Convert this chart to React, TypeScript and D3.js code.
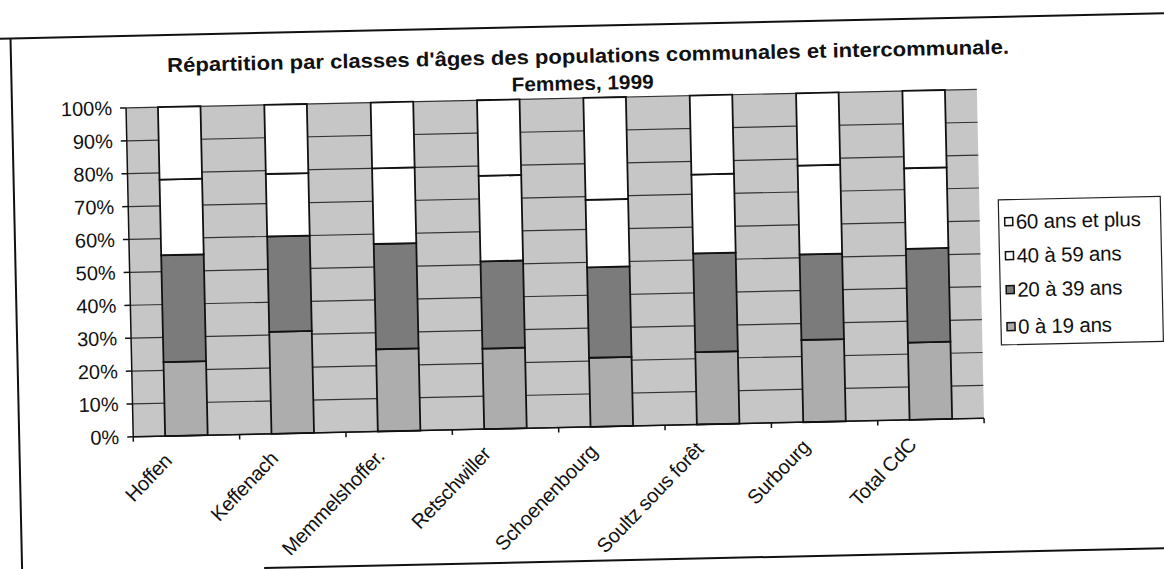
import React from "react";
import * as d3 from "d3";

const categories = [
  "Hoffen",
  "Keffenach",
  "Memmelshoffer.",
  "Retschwiller",
  "Schoenenbourg",
  "Soultz sous forêt",
  "Surbourg",
  "Total CdC",
];
const seriesNames = ["0 à 19 ans", "20 à 39 ans", "40 à 59 ans", "60 ans et plus"];
const age0to19 = [22.5, 31, 25, 24.5, 21, 22, 25, 23.5];
const age20to39 = [32.5, 29, 32, 26.5, 27.5, 30, 26, 28.5];
const age40to59 = [23, 19, 23, 26, 20.5, 24, 27, 24.5];
const age60plus = [22, 21, 20, 23, 31, 24, 22, 23.5];
const yTicks = [0, 10, 20, 30, 40, 50, 60, 70, 80, 90, 100];
const titleLine1 = "Répartition par classes d'âges des populations communales et intercommunale.";
const titleLine2 = "Femmes, 1999";

const W = 1164;
const H = 569;
const FONT = "'Liberation Sans', Arial, Helvetica, sans-serif";
const PLOT = { left: 130, right: 981, top: 98, bottom: 427 };
const colors: Record<string, string> = {
  "0 à 19 ans": "#adadad",
  "20 à 39 ans": "#7b7b7b",
  "40 à 59 ans": "#ffffff",
  "60 ans et plus": "#ffffff",
};
const BG = "#c6c6c6";

export default function App() {
  const rows = categories.map((c, i) => ({
    cat: c,
    "0 à 19 ans": age0to19[i],
    "20 à 39 ans": age20to39[i],
    "40 à 59 ans": age40to59[i],
    "60 ans et plus": age60plus[i],
  }));
  const stack = d3.stack<any>().keys(seriesNames).offset(d3.stackOffsetExpand);
  const layers = stack(rows);

  const x = d3
    .scaleBand<string>()
    .domain(categories)
    .range([PLOT.left, PLOT.right])
    .paddingInner(0.6)
    .paddingOuter(0.3);
  const y = d3.scaleLinear().domain([0, 1]).range([PLOT.bottom, PLOT.top]);
  const yPct = d3.scaleLinear().domain([0, 100]).range([PLOT.bottom, PLOT.top]);
  const step = x.step();
  const bandEdges = d3.range(categories.length + 1).map((i) => PLOT.left + i * step);

  const legendItems = [...seriesNames].reverse();

  return (
    <svg
      width={W}
      height={H}
      style={{ position: "absolute", left: 0, top: 0, background: "#fff" }}
      fontFamily={FONT}
    >
      <rect x={0} y={0} width={W} height={H} fill="#fff" />
      <g transform={`rotate(-1.25, 582, 284)`}>
        {/* chart frame */}
        <line x1={-10} y1={26} x2={1200} y2={26} stroke="#111" strokeWidth={2} />
        <line x1={16} y1={26} x2={16} y2={600} stroke="#111" strokeWidth={2} />
        <line x1={258} y1={561} x2={1200} y2={561} stroke="#111" strokeWidth={2} />

        {/* title */}
        <text
          x={172}
          y={63}
          fontWeight="bold"
          fontSize={20}
          fill="#111"
          textLength={842}
          lengthAdjust="spacingAndGlyphs"
        >
          {titleLine1}
        </text>
        <text
          x={516}
          y={90}
          fontWeight="bold"
          fontSize={20}
          fill="#111"
          textLength={142}
          lengthAdjust="spacingAndGlyphs"
        >
          {titleLine2}
        </text>

        {/* plot background */}
        <rect
          x={PLOT.left}
          y={PLOT.top}
          width={PLOT.right - PLOT.left}
          height={PLOT.bottom - PLOT.top}
          fill={BG}
        />
        {/* gridlines */}
        {yTicks.map((t) => (
          <line
            key={"g" + t}
            x1={PLOT.left}
            x2={PLOT.right}
            y1={yPct(t)}
            y2={yPct(t)}
            stroke="#333"
            strokeWidth={1.2}
          />
        ))}

        {/* bars */}
        {layers.map((layer) => (
          <g key={layer.key}>
            {layer.map((d, i) => (
              <rect
                key={i}
                x={x(categories[i])}
                y={y(d[1])}
                width={x.bandwidth()}
                height={y(d[0]) - y(d[1])}
                fill={colors[layer.key]}
                stroke="#111"
                strokeWidth={1.8}
              />
            ))}
          </g>
        ))}

        {/* y axis */}
        <line x1={PLOT.left} x2={PLOT.left} y1={PLOT.top} y2={PLOT.bottom} stroke="#111" strokeWidth={1.5} />
        {yTicks.map((t) => (
          <g key={"y" + t}>
            <line x1={PLOT.left - 6} x2={PLOT.left} y1={yPct(t)} y2={yPct(t)} stroke="#111" strokeWidth={1.5} />
            <text
              x={116}
              y={yPct(t)}
              dy="0.35em"
              textAnchor="end"
              fontSize={20}
              fill="#111"
            >
              {t + "%"}
            </text>
          </g>
        ))}

        {/* x axis */}
        <line x1={PLOT.left} x2={PLOT.right} y1={PLOT.bottom} y2={PLOT.bottom} stroke="#111" strokeWidth={1.5} />
        {bandEdges.map((bx, i) => (
          <line key={"xt" + i} x1={bx} x2={bx} y1={PLOT.bottom} y2={PLOT.bottom + 5} stroke="#111" strokeWidth={1.5} />
        ))}
        {categories.map((c) => {
          const cx = (x(c) as number) + x.bandwidth() / 2;
          return (
            <text
              key={"xl" + c}
              transform={`translate(${cx - 14}, ${PLOT.bottom + 26}) rotate(-45)`}
              textAnchor="end"
              fontSize={20}
              letterSpacing={-0.3}
              fill="#111"
            >
              {c}
            </text>
          );
        })}

        {/* legend */}
        <rect x={1000} y={209} width={162} height={145} fill="#fff" stroke="#222" strokeWidth={1.2} />
        {legendItems.map((s, i) => {
          const cy = [231, 265, 299, 336][i];
          return (
            <g key={"lg" + s}>
              <rect x={1006} y={cy - 4} width={8} height={8} fill={colors[s]} stroke="#111" strokeWidth={1.5} />
              <text x={1017} y={cy} dy="0.35em" fontSize={20.5} letterSpacing={-0.2} fill="#111">
                {s}
              </text>
            </g>
          );
        })}
      </g>
    </svg>
  );
}
